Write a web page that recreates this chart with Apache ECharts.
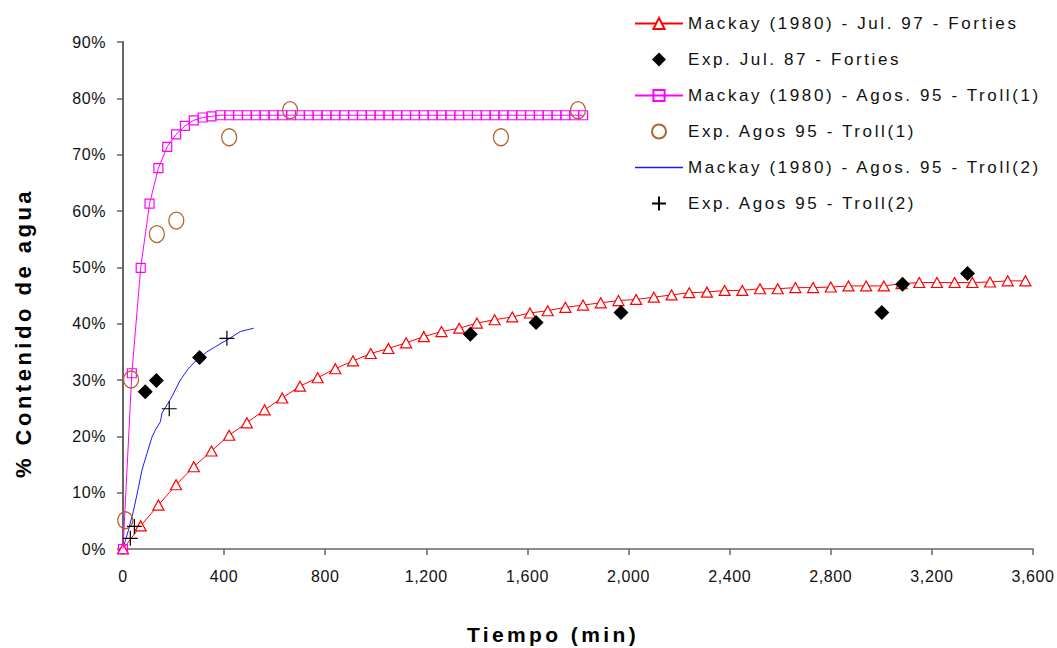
<!DOCTYPE html>
<html>
<head>
<meta charset="utf-8">
<script src="https://cdn.jsdelivr.net/npm/echarts@6/dist/echarts.min.js"></script>
<style>
  html, body { margin: 0; padding: 0; background: #fff; }
  #chart { width: 1057px; height: 648px; }
  #chart text[style*="16px"] { letter-spacing: 0.6px; }
  #chart text[style*="17px"] { letter-spacing: 2.6px; }
  #chart text[style*="21px"] { letter-spacing: 3.4px; }
  #chart text[style*="22px"] { letter-spacing: 3.5px; }
</style>
</head>
<body>
<div id="chart"></div>
<script>
// ---- Data (time in minutes, water content in %) ----
const fortiesModelTime = [0,70,140,210,280,350,420,490,560,630,700,770,840,910,980,1050,1120,1190,1260,1330,1400,1470,1540,1610,1680,1750,1820,1890,1960,2030,2100,2170,2240,2310,2380,2450,2520,2590,2660,2730,2800,2870,2940,3010,3080,3150,3220,3290,3360,3430,3500,3570];
const fortiesModelValue = [0,4.1,7.8,11.4,14.6,17.4,20.2,22.4,24.7,26.8,28.9,30.4,32.0,33.4,34.7,35.6,36.6,37.7,38.6,39.2,40.1,40.7,41.2,41.9,42.3,42.9,43.3,43.7,44.1,44.3,44.7,45.1,45.5,45.6,45.9,45.9,46.2,46.2,46.4,46.4,46.5,46.7,46.7,46.7,47.1,47.3,47.3,47.3,47.3,47.4,47.6,47.6];

const fortiesExpTime = [88,132,303,1374,1634,1970,3002,3084,3341];
const fortiesExpValue = [27.9,29.9,34.0,38.1,40.2,42.0,42.0,47.0,48.9];

const troll1ModelTime = [0,35,70,105,140,175,210,245,280,315,350,385,420,455,490,525,560,595,630,665,700,735,770,805,840,875,910,945,980,1015,1050,1085,1120,1155,1190,1225,1260,1295,1330,1365,1400,1435,1470,1505,1540,1575,1610,1645,1680,1715,1750,1785,1820];
const troll1ModelValue = [0,31.2,49.9,61.3,67.6,71.4,73.6,75.1,76.1,76.6,76.8,77.0,77.0,77.0,77.0,77.0,77.0,77.0,77.0,77.0,77.0,77.0,77.0,77.0,77.0,77.0,77.0,77.0,77.0,77.0,77.0,77.0,77.0,77.0,77.0,77.0,77.0,77.0,77.0,77.0,77.0,77.0,77.0,77.0,77.0,77.0,77.0,77.0,77.0,77.0,77.0,77.0,77.0];

const troll1ExpTime = [9,32,134,211,420,661,1495,1800];
const troll1ExpValue = [5.1,30.1,55.9,58.3,73.1,77.9,73.1,77.9];

const troll2ModelTime = [0,22,42,62,75,95,115,128,148,154,174,187,227,260,293,332,365,411,464,517];
const troll2ModelValue = [0.1,3.4,6.9,11.1,14.0,17.0,19.9,21.1,22.6,24.1,25.6,26.5,30.0,32.1,33.6,35.0,35.9,37.1,38.6,39.2];

const troll2ExpTime = [29,45,183,411];
const troll2ExpValue = [1.9,4.0,24.9,37.4];

const seriesNames = [
  'Mackay (1980) - Jul. 97 - Forties',
  'Exp. Jul. 87 - Forties',
  'Mackay (1980) - Agos. 95 - Troll(1)',
  'Exp. Agos 95 - Troll(1)',
  'Mackay (1980) - Agos. 95 - Troll(2)',
  'Exp. Agos 95 - Troll(2)'
];
const xTitle = 'Tiempo (min)';
const yTitle = '% Contenido de agua';

const pair = (xs, ys) => xs.map((x, i) => [x, ys[i]]);

const chart = echarts.init(document.getElementById('chart'), null, { renderer: 'svg' });
const FONT = 'Arial, "Liberation Sans", sans-serif';
const AXIS_COLOR = '#666';
const BLUE = '#1a1aff';
const DIAMOND = 'path://M0,10 L10,0 L20,10 L10,20 Z';
const CIRCLE = 'path://M0,10 A10,10 0 1,0 20,10 A10,10 0 1,0 0,10 Z';
const CROSS = 'path://M0,10 L20,10 M10,0 L10,20';
const FLAT_LINE = 'path://M0,0 L48,0 L48,1.6 L0,1.6 Z';

chart.setOption({
  animation: false,
  backgroundColor: '#fff',
  grid: { left: 123, right: 24, top: 42, bottom: 99, containLabel: false },
  xAxis: {
    type: 'value', min: 0, max: 3600, interval: 400,
    axisLine: { lineStyle: { color: AXIS_COLOR, width: 1.5 } },
    axisTick: { length: 6, lineStyle: { color: AXIS_COLOR, width: 1.5 } },
    splitLine: { show: false },
    axisLabel: { fontSize: 16, fontFamily: FONT, color: '#111', margin: 19,
      formatter: v => v.toLocaleString('en-US') }
  },
  yAxis: {
    type: 'value', min: 0, max: 90, interval: 10,
    axisLine: { show: true, lineStyle: { color: AXIS_COLOR, width: 2 } },
    axisTick: { show: true, length: 6, lineStyle: { color: AXIS_COLOR, width: 1.5 } },
    splitLine: { show: false },
    axisLabel: { fontSize: 16, fontFamily: FONT, color: '#111', margin: 17, formatter: '{value}%' }
  },
  legend: {
    orient: 'vertical', left: 634, top: 15, padding: 0,
    itemWidth: 48, itemHeight: 14, itemGap: 19,
    textStyle: { fontSize: 17, fontFamily: FONT, color: '#111', lineHeight: 17 },
    data: [
      { name: seriesNames[0] },
      { name: seriesNames[1], icon: DIAMOND },
      { name: seriesNames[2] },
      { name: seriesNames[3], icon: CIRCLE },
      { name: seriesNames[4], icon: FLAT_LINE, itemStyle: { color: BLUE, borderWidth: 0 } },
      { name: seriesNames[5], icon: CROSS }
    ]
  },
  graphic: [
    { type: 'text', x: 553, y: 634,
      style: { text: xTitle, fontSize: 21, fontWeight: 'bold', fontFamily: FONT, fill: '#000',
        textAlign: 'center', textVerticalAlign: 'middle' } },
    { type: 'text', x: 23, y: 333, rotation: Math.PI / 2,
      style: { text: yTitle, fontSize: 22, fontWeight: 'bold', fontFamily: FONT, fill: '#000',
        textAlign: 'center', textVerticalAlign: 'middle' } }
  ],
  series: [
    {
      name: seriesNames[0], type: 'line', data: pair(fortiesModelTime, fortiesModelValue),
      symbol: 'triangle', symbolSize: [11, 10], showAllSymbol: true,
      lineStyle: { color: '#ff0000', width: 1 },
      itemStyle: { color: '#ffffff', borderColor: '#ff0000', borderWidth: 1.2 },
      emphasis: { disabled: true }, z: 2
    },
    {
      name: seriesNames[1], type: 'scatter', data: pair(fortiesExpTime, fortiesExpValue),
      symbol: DIAMOND, symbolSize: 15,
      itemStyle: { color: '#000000', opacity: 1 },
      emphasis: { disabled: true }, z: 4
    },
    {
      name: seriesNames[2], type: 'line', data: pair(troll1ModelTime, troll1ModelValue),
      symbol: 'rect', symbolSize: 9, showAllSymbol: true,
      lineStyle: { color: '#ff00ff', width: 1 },
      itemStyle: { color: 'rgba(255,255,255,0)', borderColor: '#ff00ff', borderWidth: 1.2 },
      emphasis: { disabled: true }, z: 3
    },
    {
      name: seriesNames[3], type: 'scatter', data: pair(troll1ExpTime, troll1ExpValue),
      symbol: CIRCLE, symbolSize: [15, 17],
      itemStyle: { color: 'rgba(255,255,255,0)', borderColor: '#b4622f', borderWidth: 1.3, opacity: 1 },
      emphasis: { disabled: true }, z: 5
    },
    {
      name: seriesNames[4], type: 'line', data: pair(troll2ModelTime, troll2ModelValue),
      symbol: 'none', showSymbol: false,
      lineStyle: { color: BLUE, width: 1 },
      itemStyle: { color: BLUE },
      emphasis: { disabled: true }, z: 2
    },
    {
      name: seriesNames[5], type: 'scatter', data: pair(troll2ExpTime, troll2ExpValue),
      symbol: CROSS, symbolSize: 15,
      itemStyle: { color: 'rgba(0,0,0,0)', borderColor: '#000000', borderWidth: 1.2, opacity: 1 },
      emphasis: { disabled: true }, z: 5
    }
  ]
});
</script>
</body>
</html>
